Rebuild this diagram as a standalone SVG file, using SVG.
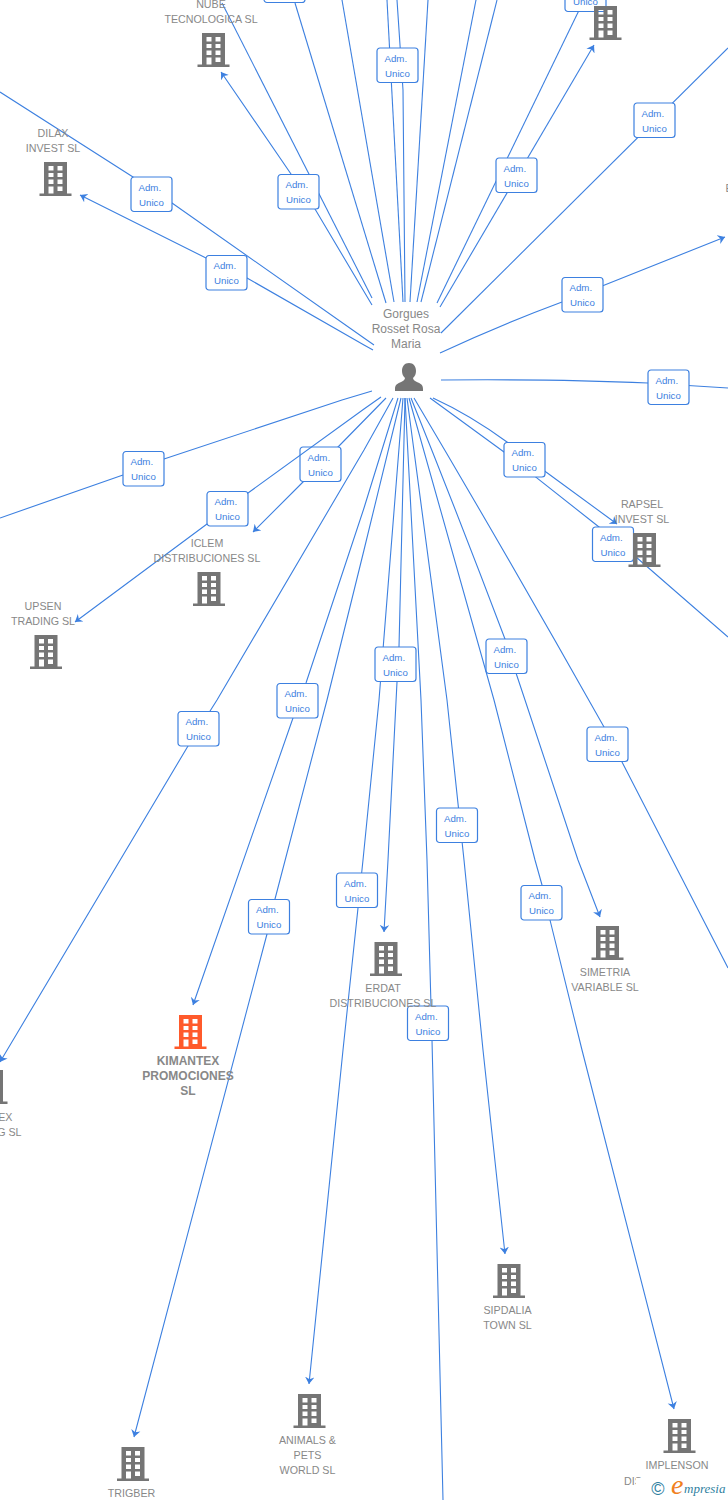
<svg xmlns="http://www.w3.org/2000/svg" width="728" height="1500" viewBox="0 0 728 1500">
<style>
.c{fill:none;stroke:#3d80e0;stroke-width:1.1}
.b{fill:#fff;stroke:#3d80e0;stroke-width:1.2}
.l{font:9.700px "Liberation Sans",Arial,sans-serif;fill:#3d80e0}
.t{font:10.700px "Liberation Sans",Arial,sans-serif;fill:#888;text-anchor:middle}
.g{font-size:12px}
.k{font:bold 12px "Liberation Sans",Arial,sans-serif;fill:#888;text-anchor:middle}
</style>
<defs>
<marker id="a" markerUnits="userSpaceOnUse" markerWidth="12" markerHeight="12" refX="7" refY="5" orient="auto"><path d="M7 5L0 0.300L2.200 5L0 9.700Z" fill="#3d80e0"/></marker>
<symbol id="bld" width="32" height="34" viewBox="0 0 32 34" overflow="visible"><path fill-rule="evenodd" d="M4.500 0H27.500V31.500H32V34H0V31.500H4.500ZM9 4V8.500H14V4ZM18 4V8.500H23V4ZM9 11V15H14V11ZM18 11V15H23V11ZM9 17.500V22H14V17.500ZM18 17.500V22H23V17.500ZM9 24.500V31.500H14V24.500ZM18 24.500V29H23V24.500Z"/></symbol>
<g id="lb"><rect class="b" width="41" height="34.500" rx="3"/></g>
</defs>
<rect width="728" height="1500" fill="#fff"/>
<g id="connectors">
<path class="c" d="M222 3L372 298"/>
<path class="c" d="M342 0L394 302"/>
<path class="c" d="M387 0L403 302"/>
<path class="c" d="M428 0L410 302"/>
<path class="c" d="M476 0L417 302"/>
<path class="c" d="M497 0L421 302"/>
<path class="c" d="M295 3L386 303"/><use href="#lb" x="264" y="-32"/>
<path class="c" d="M397 0L403 90L405 302"/><use href="#lb" x="377" y="48"/><text class="l" x="384.500" y="62">Adm.</text><text class="l" x="385" y="77">Unico</text>
<path class="c" d="M584 0L437 303"/><use href="#lb" x="565" y="-23"/><text class="l" x="573" y="5">Unico</text>
<path class="c" d="M440 307L594 45" marker-end="url(#a)"/><use href="#lb" x="496" y="158"/><text class="l" x="503.500" y="172">Adm.</text><text class="l" x="504" y="187">Unico</text>
<path class="c" d="M441 333L728 48"/><use href="#lb" x="634" y="103"/><text class="l" x="641.500" y="117">Adm.</text><text class="l" x="642" y="132">Unico</text>
<path class="c" d="M440 353Q500 325 562 302L725 237" marker-end="url(#a)"/><use href="#lb" x="562" y="277.500"/><text class="l" x="569.500" y="291">Adm.</text><text class="l" x="570" y="306">Unico</text>
<path class="c" d="M441 380Q560 379 648 383L728 388"/><use href="#lb" x="648" y="370"/><text class="l" x="655.500" y="384">Adm.</text><text class="l" x="656" y="399">Unico</text>
<path class="c" d="M430 398L504 452L599 527L636 557L728 637"/><path class="c" d="M433 398Q470 415 507 442L546 472L617 524" marker-end="url(#a)"/>
<use href="#lb" x="504" y="442.500"/><text class="l" x="511.500" y="456">Adm.</text><text class="l" x="512" y="471">Unico</text>
<use href="#lb" x="592.500" y="527"/><text class="l" x="600" y="541">Adm.</text><text class="l" x="600.500" y="556">Unico</text>
<path class="c" d="M414 398Q510 560 604 727L622 762L728 968"/><use href="#lb" x="587" y="727"/><text class="l" x="594.500" y="741">Adm.</text><text class="l" x="595" y="756">Unico</text>
<path class="c" d="M411 398Q460 520 505 639L516 673L525 700L578 860L600 917" marker-end="url(#a)"/><use href="#lb" x="486" y="639"/><text class="l" x="493.500" y="653">Adm.</text><text class="l" x="494" y="668">Unico</text>
<path class="c" d="M409 398L494 700L535 860L542 885L550 920L582 1050L674 1409" marker-end="url(#a)"/><use href="#lb" x="521" y="885.500"/><text class="l" x="528.500" y="899">Adm.</text><text class="l" x="529" y="914">Unico</text>
<path class="c" d="M407 398L447 700L464 860L483 1050L505 1254" marker-end="url(#a)"/><use href="#lb" x="436.500" y="808"/><text class="l" x="444" y="822">Adm.</text><text class="l" x="444.500" y="837">Unico</text>
<path class="c" d="M405 398L421 700L427 860L431 1006L432 1040L443 1500"/><use href="#lb" x="407.500" y="1006"/><text class="l" x="415" y="1020">Adm.</text><text class="l" x="415.500" y="1035">Unico</text>
<path class="c" d="M403 398L379 700L363 860L358 908L343 1050L309 1384" marker-end="url(#a)"/><use href="#lb" x="336.500" y="873"/><text class="l" x="344" y="887">Adm.</text><text class="l" x="344.500" y="902">Unico</text>
<path class="c" d="M405 398L399 647L397 682L388 860L384 932" marker-end="url(#a)"/><use href="#lb" x="375" y="647"/><text class="l" x="382.500" y="661">Adm.</text><text class="l" x="383" y="676">Unico</text>
<path class="c" d="M401 398L364 550L327 700L275 899L267 934L134 1437" marker-end="url(#a)"/><use href="#lb" x="248.500" y="899.500"/><text class="l" x="256" y="913">Adm.</text><text class="l" x="256.500" y="928">Unico</text>
<path class="c" d="M398 398L364 508L306 683L293 718L193 1005" marker-end="url(#a)"/><use href="#lb" x="277" y="683.500"/><text class="l" x="284.500" y="697">Adm.</text><text class="l" x="285" y="712">Unico</text>
<path class="c" d="M393 398L364 450L217 700L188 746L0 1062" marker-end="url(#a)"/><use href="#lb" x="178" y="711.500"/><text class="l" x="185.500" y="725">Adm.</text><text class="l" x="186" y="740">Unico</text>
<path class="c" d="M386 398L338 447L303 482L253 532" marker-end="url(#a)"/><use href="#lb" x="300" y="447"/><text class="l" x="307.500" y="461">Adm.</text><text class="l" x="308" y="476">Unico</text>
<path class="c" d="M381 397L364 409L248 493L207 524L75 622" marker-end="url(#a)"/><use href="#lb" x="207" y="491.500"/><text class="l" x="214.500" y="505">Adm.</text><text class="l" x="215" y="520">Unico</text>
<path class="c" d="M372 391L342 400L164 459L123 475L0 518"/><use href="#lb" x="123" y="451.500"/><text class="l" x="130.500" y="465">Adm.</text><text class="l" x="131" y="480">Unico</text>
<path class="c" d="M373 350L364 345L247 278L206 258L80 195" marker-end="url(#a)"/><use href="#lb" x="206" y="255.500"/><text class="l" x="213.500" y="269">Adm.</text><text class="l" x="214" y="284">Unico</text>
<path class="c" d="M374 345L364 338L172 203L133 177L0 92"/><use href="#lb" x="131" y="177"/><text class="l" x="138.500" y="191">Adm.</text><text class="l" x="139" y="206">Unico</text>
<path class="c" d="M372 305L315 209L291 174L221 72" marker-end="url(#a)"/><use href="#lb" x="278" y="174.500"/><text class="l" x="285.500" y="188">Adm.</text><text class="l" x="286" y="203">Unico</text>
</g>
<g id="person"><path fill="#757575" d="M409 363C404.500 363 402 366.500 402 371C402 374 403 376 405 378C405 380 403 381 400 382.500C396.500 384 395 385.500 395 389V391H423V389C423 385.500 421.500 384 418 382.500C415 381 413 380 413 378C415 376 416 374 416 371C416 366.500 413.500 363 409 363Z"/><text class="t g" x="406" y="318">Gorgues</text><text class="t g" x="406" y="333">Rosset Rosa</text><text class="t g" x="406" y="348">Maria</text></g>
<g id="nube" fill="#757575"><use href="#bld" x="197.500" y="33"/><text class="t" x="211" y="8">NUBE</text><text class="t" x="211" y="23">TECNOLOGICA SL</text></g>
<g id="dilax" fill="#757575"><use href="#bld" x="39.500" y="162"/><text class="t" x="53" y="137">DILAX</text><text class="t" x="53" y="152">INVEST SL</text></g>
<g id="topright" fill="#757575"><use href="#bld" x="589.500" y="6"/></g>
<g id="rightlabel"><text class="t" x="729" y="192">E</text></g>
<g id="rapsel" fill="#757575"><use href="#bld" x="628.500" y="533"/><text class="t" x="642" y="508">RAPSEL</text><text class="t" x="642" y="523">INVEST SL</text></g>
<g id="iclem" fill="#757575"><use href="#bld" x="193" y="572"/><text class="t" x="207" y="547">ICLEM</text><text class="t" x="207" y="562">DISTRIBUCIONES SL</text></g>
<g id="upsen" fill="#757575"><use href="#bld" x="30" y="635"/><text class="t" x="43" y="610">UPSEN</text><text class="t" x="43" y="625">TRADING SL</text></g>
<g id="kimantex" fill="#ff5a2b"><use href="#bld" x="174.500" y="1015"/><text class="k" x="188" y="1065">KIMANTEX</text><text class="k" x="188" y="1080">PROMOCIONES</text><text class="k" x="188" y="1095">SL</text></g>
<g id="leftnode" fill="#757575"><use href="#bld" x="-24.500" y="1070"/><text class="t" x="12.500" y="1121" style="text-anchor:end">EX</text><text class="t" x="21.500" y="1136" style="text-anchor:end">G SL</text></g>
<g id="erdat" fill="#757575"><use href="#bld" x="370" y="942"/><text class="t" x="383" y="992">ERDAT</text><text class="t" x="383" y="1007">DISTRIBUCIONES SL</text></g>
<g id="simetria" fill="#757575"><use href="#bld" x="591.500" y="926"/><text class="t" x="605" y="976">SIMETRIA</text><text class="t" x="605" y="991">VARIABLE SL</text></g>
<g id="sipdalia" fill="#757575"><use href="#bld" x="493" y="1264"/><text class="t" x="507.500" y="1314">SIPDALIA</text><text class="t" x="507.500" y="1329">TOWN SL</text></g>
<g id="animals" fill="#757575"><use href="#bld" x="293.500" y="1394"/><text class="t" x="307.500" y="1444">ANIMALS &amp;</text><text class="t" x="307.500" y="1459">PETS</text><text class="t" x="307.500" y="1474">WORLD SL</text></g>
<g id="trigber" fill="#757575"><use href="#bld" x="117" y="1447"/><text class="t" x="131.500" y="1497">TRIGBER</text></g>
<g id="implenson" fill="#757575"><use href="#bld" x="663.500" y="1419"/><text class="t" x="677" y="1469">IMPLENSON</text><text class="t" x="624" y="1485" style="text-anchor:start">DIS</text></g>
<g id="logo"><rect x="636" y="1478" width="92" height="22" fill="#fff"/><text x="658" y="1495" text-anchor="middle" font-family="'Liberation Sans',sans-serif" font-size="18" fill="#2f7f9f">©</text><text x="671" y="1494" font-family="'Liberation Serif',serif" font-style="italic" font-size="28" fill="#f08020">e</text><text x="684" y="1493" font-family="'Liberation Serif',serif" font-style="italic" font-size="13" fill="#2f7f9f">mpresia</text></g>
</svg>
